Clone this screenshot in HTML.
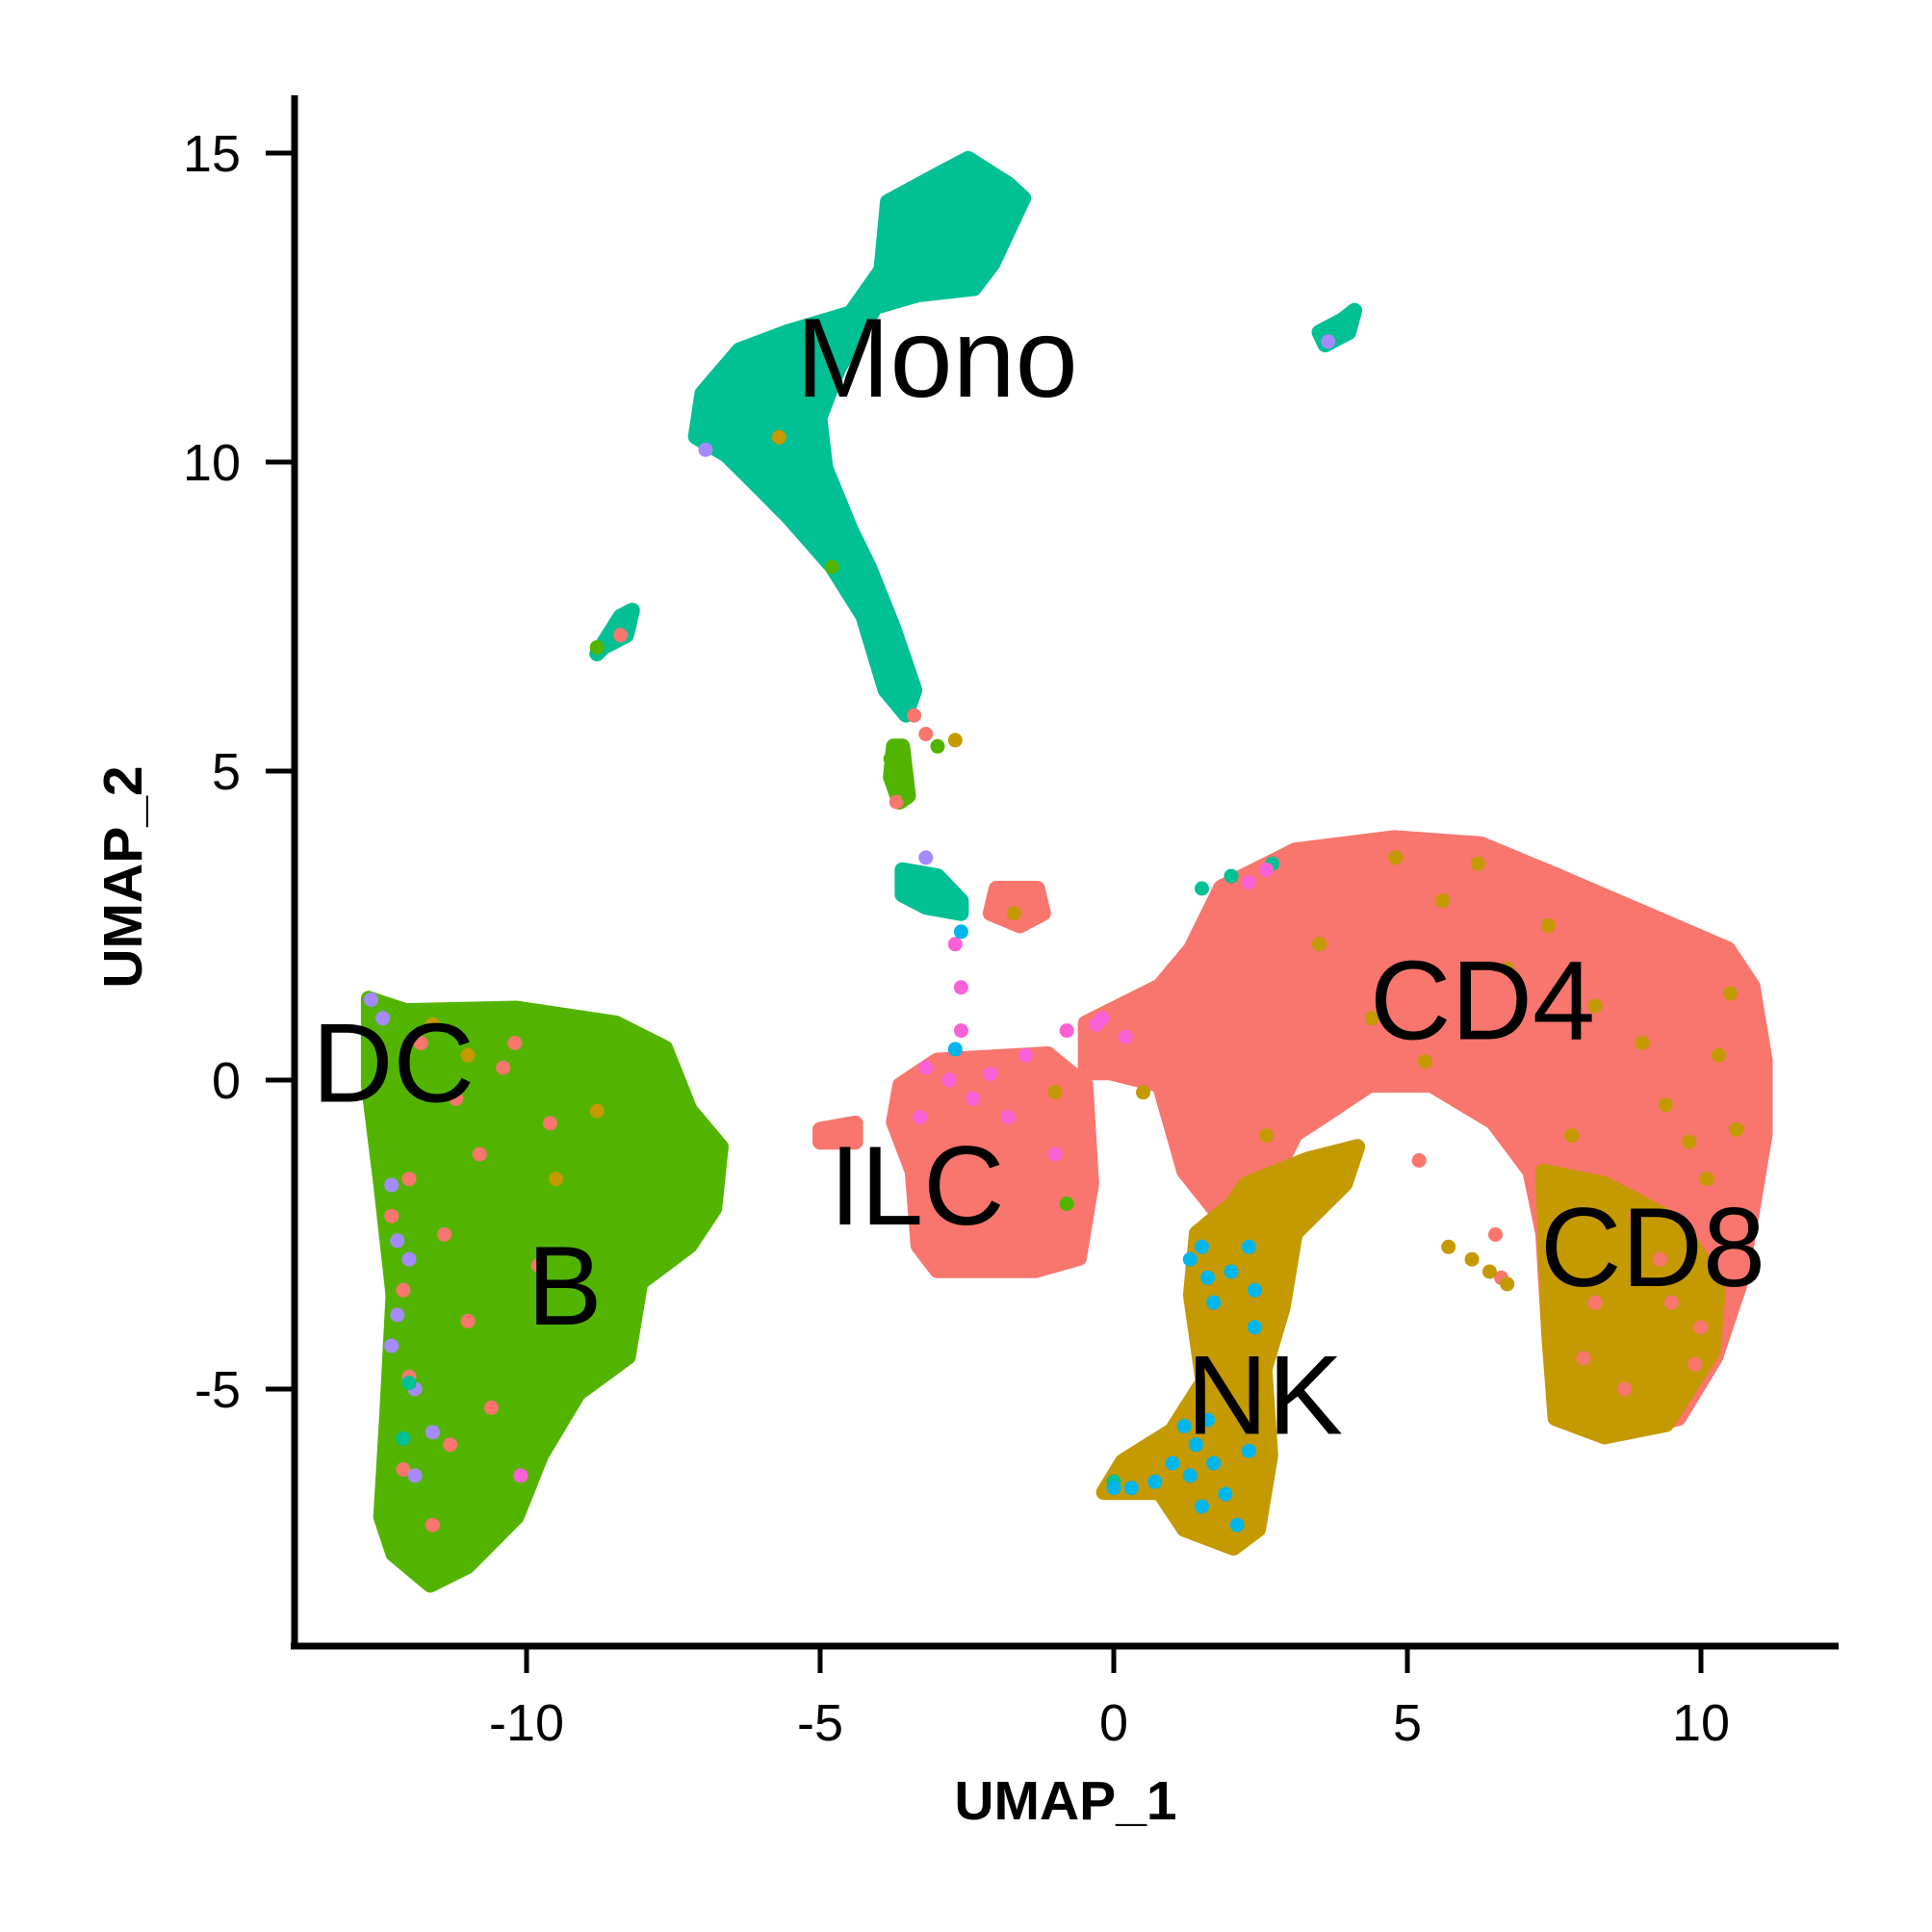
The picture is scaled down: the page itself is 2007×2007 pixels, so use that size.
<!DOCTYPE html>
<html><head><meta charset="utf-8"><style>
html,body{margin:0;padding:0;background:#fff}
svg{display:block}
text{font-family:"Liberation Sans",Arial,sans-serif}
</style></head><body>
<svg id="chart" width="2007" height="2007" viewBox="0 0 2007 2007" xmlns="http://www.w3.org/2000/svg">
<g id="marks"></g>
<g id="axes"></g>
<g id="labels"></g>
</svg>
<script>
// cluster outline polygons in UMAP data coordinates [x, y]
const bOutline=[[-12.69,1.32],[-12.06,1.12],[-10.17,1.16],[-8.48,0.92],[-7.64,0.52],[-7.22,-0.48],[-6.69,-1.08],[-6.80,-2.08],[-7.22,-2.68],[-8.06,-3.28],[-8.27,-4.48],[-9.12,-5.07],[-9.75,-6.07],[-10.17,-7.07],[-11.01,-7.87],[-11.64,-8.17],[-12.27,-7.67],[-12.48,-7.07],[-12.38,-5.47],[-12.27,-3.48],[-12.48,-1.68],[-12.69,-0.08]];
const monoOutline=[[-3.85,14.21],[-2.9,14.7],[-2.48,14.91],[-1.8,14.5],[-1.54,14.27],[-2.06,13.21],[-2.38,12.81],[-3.33,12.71],[-4.06,12.51],[-4.69,11.51],[-5.01,10.71],[-4.91,9.91],[-4.48,8.91],[-4.17,8.31],[-3.75,7.31],[-3.39,6.31],[-3.54,5.91],[-3.89,6.31],[-4.27,7.51],[-4.80,8.31],[-5.54,9.11],[-6.06,9.61],[-6.59,10.11],[-7.12,10.41],[-7.01,11.11],[-6.38,11.81],[-5.54,12.11],[-4.48,12.41],[-3.96,13.11]];
const cd4Outline=[[-0.48,0.92],[0.78,1.52],[1.31,2.12],[1.83,3.12],[3.09,3.72],[4.78,3.92],[6.25,3.82],[7.52,3.32],[8.99,2.72],[10.46,2.12],[10.88,1.52],[11.09,0.32],[11.09,-0.88],[10.88,-2.08],[10.67,-3.28],[10.25,-4.48],[9.62,-5.47],[8.36,-5.77],[7.52,-5.47],[7.41,-4.08],[7.31,-2.48],[7.09,-1.48],[6.46,-0.68],[5.41,-0.08],[4.36,-0.08],[3.73,-0.48],[3.09,-0.88],[2.67,-1.68],[2.04,-2.48],[1.20,-1.48],[0.78,-0.08],[-0.06,0.12],[-0.48,0.12]];
const cd8Outline=[[7.31,-1.48],[8.36,-1.68],[9.6,-2.3],[10.3,-3.3],[10.2,-4.4],[9.41,-5.57],[8.36,-5.77],[7.52,-5.47],[7.41,-4.08]];
const ilcOutline=[[-3.64,-0.08],[-3.01,0.32],[-1.12,0.42],[-0.48,-0.08],[-0.38,-1.68],[-0.59,-2.88],[-1.33,-3.08],[-3.01,-3.08],[-3.33,-2.68],[-3.43,-1.48],[-3.75,-0.68]];
const nkOutline=[[2.25,-1.68],[3.31,-1.28],[4.15,-1.08],[3.94,-1.68],[3.09,-2.48],[2.88,-3.68],[2.57,-4.68],[2.67,-6.07],[2.46,-7.27],[2.04,-7.57],[1.20,-7.27],[0.78,-6.67],[-0.17,-6.67],[0.15,-6.17],[0.99,-5.67],[1.52,-4.88],[1.31,-3.48],[1.41,-2.48],[2.04,-1.98]];
const smallA=[[-8.8,6.9],[-8.4,7.5],[-8.2,7.6],[-8.3,7.2],[-8.7,7.0]];
const smallB=[[3.5,12.1],[3.9,12.3],[4.1,12.45],[4.0,12.1],[3.6,11.9]];
const smallC=[[-3.6,3.4],[-3.0,3.3],[-2.6,2.9],[-2.6,2.7],[-3.2,2.8],[-3.6,3.0]];
const smallD=[[-2.0,3.1],[-1.3,3.1],[-1.2,2.7],[-1.6,2.5],[-2.1,2.7]];
const stemG=[[-3.75,5.4],[-3.6,5.4],[-3.5,4.6],[-3.65,4.5],[-3.8,4.9]];
const ilcExtra=[[-5.0,-0.8],[-4.4,-0.7],[-4.4,-1.0],[-5.0,-1.0]];
// speckle points [x, y]
const salmonPts=[[-11.8,0.6],[-11.2,-0.3],[-10.4,0.2],[-12.0,-1.6],[-11.4,-2.5],[-10.8,-1.2],[-9.6,-0.7],[-12.1,-3.4],[-11.0,-3.9],[-12.0,-4.8],[-11.3,-5.9],[-12.1,-6.3],[-10.6,-5.3],[-9.8,-3.0],[-10.2,0.6],[-11.6,-7.2],[-3.4,5.9],[-3.2,5.6],[-3.7,4.5],[-8.4,7.2],[-12.3,-2.2],[-1.8,2.9],[9.9,-4.6],[8.7,-5.0],[8.2,-3.6],[9.3,-2.9],[10.0,-4.0],[5.2,-1.3],[6.5,-2.5],[6.6,-3.2],[8.9,-2.2],[9.5,-3.6],[8.0,-4.5]];
const oliveSpeck=[[4.8,3.6],[6.2,3.5],[5.6,2.9],[7.4,2.5],[8.2,1.2],[9.0,0.6],[10.3,0.4],[10.6,-0.8],[3.5,2.2],[4.4,1.0],[5.3,0.3],[6.7,1.8],[9.4,-0.4],[2.6,-0.9],[3.0,-1.4],[-5.7,10.4],[-2.7,5.5],[-1.7,2.7],[-11.0,0.4],[-9.5,-1.6],[-8.8,-0.5],[-11.6,0.9],[5.7,-2.7],[6.4,-3.1],[6.1,-2.9],[-1.0,-0.2],[0.5,-0.2],[10.5,1.4],[6.7,-3.3],[9.8,-1.0],[10.1,-1.6],[7.8,-0.9]];
const purplePts=[[-12.65,1.3],[-12.45,1.0],[-12.3,-1.7],[-12.2,-2.6],[-12.0,-2.9],[-12.3,-4.3],[-11.9,-5.0],[-11.6,-5.7],[-11.9,-6.4],[-6.95,10.2],[3.65,11.95],[-3.2,3.6],[-12.2,-3.8]];
const tealPts=[[-12.0,-4.9],[-12.1,-5.8],[2.0,3.3],[1.5,3.1],[2.7,3.5],[0.0,-6.5]];
const pinkPts=[[-2.6,1.5],[-2.7,2.2],[-2.6,0.8],[-2.8,0.0],[-3.2,0.2],[-2.1,0.1],[-1.5,0.4],[-1.8,-0.6],[-0.8,0.8],[-0.3,0.9],[0.2,0.7],[-3.3,-0.6],[-2.4,-0.3],[2.3,3.2],[2.6,3.4],[-10.1,-6.4],[-0.2,1.0],[-1.0,-1.2]];
const bluePts=[[1.3,-2.9],[1.6,-3.2],[1.5,-2.7],[2.0,-3.1],[1.7,-3.6],[2.3,-2.7],[2.4,-3.4],[1.2,-5.6],[1.4,-5.9],[1.7,-6.2],[1.3,-6.4],[1.9,-6.7],[2.1,-7.2],[1.5,-6.9],[0.0,-6.6],[0.3,-6.6],[0.7,-6.5],[1.6,-5.5],[2.3,-6.0],[1.0,-6.2],[2.4,-4.0],[-2.7,0.5],[-2.6,2.4]];
const greenPts=[[-3.7,5.0],[-3.8,5.2],[-3.5,4.6],[-3.0,5.4],[-8.8,7.0],[-4.8,8.3],[-0.8,-2.0]];
const labelNames=["Mono","DC","B","ILC","CD4","CD8","NK"];
const labelX=[-3.01,-12.27,-9.35,-3.35,6.28,9.18,2.57];
const labelY=[11.71,0.3,-3.3,-1.68,1.32,-2.68,-5.07];
const xTicks=[-10,-5,0,5,10];
const yTicks=[-5,0,5,10,15];
const xTickLabels=["-10","-5","0","5","10"];
const yTickLabels=["-5","0","5","10","15"];

const NS="http://www.w3.org/2000/svg";
function sx(v){return 1157+v*61.0;}
function sy(v){return 1122-v*64.2;}
function mk(tag,attrs,parent){const e=document.createElementNS(NS,tag);for(const k in attrs)e.setAttribute(k,attrs[k]);parent.appendChild(e);return e;}
const marks=document.getElementById('marks'),axes=document.getElementById('axes'),labels=document.getElementById('labels');
function poly(pts,color,name){
  const p=mk('polygon',{points:pts.map(d=>sx(d[0]).toFixed(1)+','+sy(d[1]).toFixed(1)).join(' '),fill:color,stroke:color,'stroke-width':16,'stroke-linejoin':'round'},marks);
  
  
}
function dots(pts,color,name){
  pts.forEach(d=>{const c=mk('circle',{cx:sx(d[0]).toFixed(1),cy:sy(d[1]).toFixed(1),r:7.5,fill:color},marks);
  
  });
}
const SAL="#F8766D",OLI="#C49A00",GRN="#53B400",TEAL="#00C094",BLU="#00B6EB",PUR="#A58AFF",PNK="#FB61D7";
poly(bOutline,GRN,'b-cluster');
poly(monoOutline,TEAL,'mono-cluster');
poly(stemG,GRN,'mono-stem-cluster');
poly(smallA,TEAL,'small-cluster-a');
poly(smallB,TEAL,'small-cluster-b');
poly(smallC,TEAL,'small-cluster-c');
poly(smallD,SAL,'small-cluster-d');
poly(ilcExtra,SAL,'ilc-satellite');
poly(cd4Outline,SAL,'cd4-cluster');
poly(cd8Outline,OLI,'cd8-cluster');
poly(ilcOutline,SAL,'ilc-cluster');
poly(nkOutline,OLI,'nk-cluster');
dots(salmonPts,SAL,'salmon-point');
dots(oliveSpeck,OLI,'olive-point');
dots(purplePts,PUR,'purple-point');
dots(tealPts,TEAL,'teal-point');
dots(pinkPts,PNK,'pink-point');
dots(bluePts,BLU,'blue-point');
dots(greenPts,GRN,'green-point');

// axes
let a=mk('line',{x1:306,y1:99,x2:306,y2:1713,stroke:'#000','stroke-width':7},axes);


a=mk('line',{x1:302,y1:1710,x2:1910,y2:1710,stroke:'#000','stroke-width':7},axes);


xTicks.forEach((v,i)=>{
  const t=mk('line',{x1:sx(v),y1:1713,x2:sx(v),y2:1738,stroke:'#000','stroke-width':5},axes);
  
  
  const l=mk('text',{x:sx(v),y:1808,'font-size':54,'text-anchor':'middle',fill:'#000'},axes);
  l.textContent=xTickLabels[i];
  
  
});
yTicks.forEach((v,i)=>{
  const t=mk('line',{x1:276,y1:sy(v),x2:306,y2:sy(v),stroke:'#000','stroke-width':5},axes);
  
  
  const l=mk('text',{x:250,y:sy(v)+19,'font-size':54,'text-anchor':'end',fill:'#000'},axes);
  l.textContent=yTickLabels[i];
  
  
});
let t=mk('text',{x:1107,y:1890,'font-size':57,'font-weight':'bold','text-anchor':'middle',fill:'#000'},axes);
t.textContent='UMAP_1';


t=mk('text',{x:0,y:0,'font-size':57,'font-weight':'bold','text-anchor':'middle',fill:'#000',transform:'translate(147,911) rotate(-90)'},axes);
t.textContent='UMAP_2';


labelNames.forEach((n,i)=>{
  const l=mk('text',{x:sx(labelX[i]),y:sy(labelY[i])+42,'font-size':117,'text-anchor':'middle',fill:'#000'},labels);
  l.textContent=n;
  
  
});
</script>
</body></html>
